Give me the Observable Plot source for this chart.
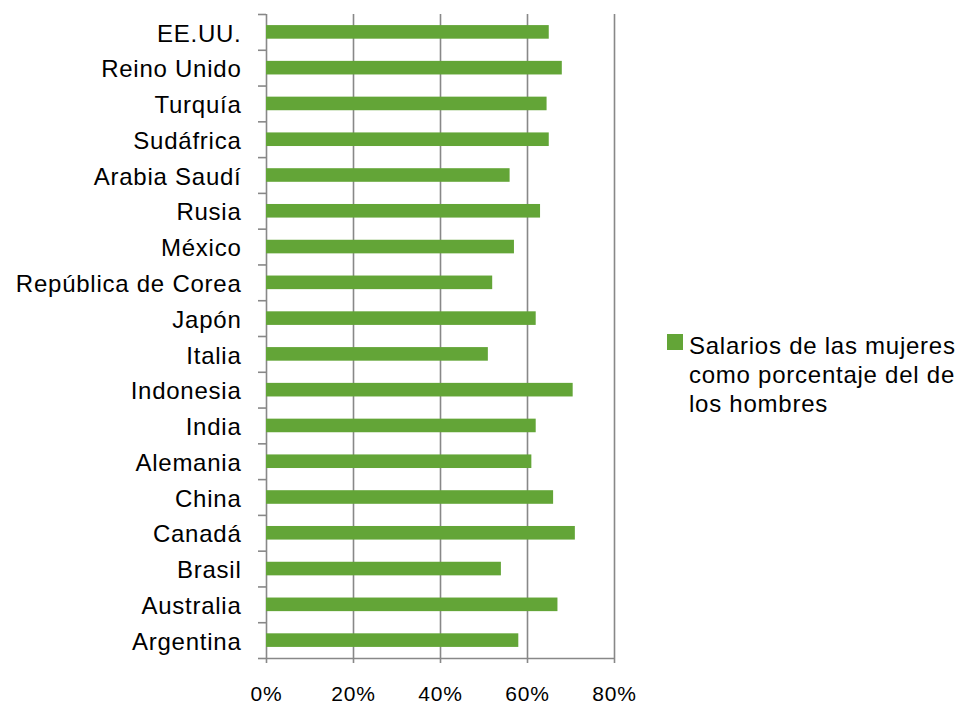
<!DOCTYPE html>
<html>
<head>
<meta charset="utf-8">
<script src="https://cdn.jsdelivr.net/npm/d3@7"></script>
<script src="https://cdn.jsdelivr.net/npm/@observablehq/plot@0.6"></script>
<style>
  body { margin: 0; background: #fff; }
  #wrap { position: relative; width: 963px; height: 705px; font-family: "Liberation Sans", Arial, sans-serif; }
  #legend { position: absolute; left: 667px; top: 331px; font-size: 24px; letter-spacing: 0.75px; line-height: 29px; color: #000; }
  #legend .sw { position: absolute; left: 0; top: 3px; width: 16px; height: 16px; background: #63A537; }
  #legend .tx { position: absolute; left: 22px; top: 0; white-space: nowrap; }
</style>
</head>
<body>
<div id="wrap"></div>
<script>
const countries = ["EE.UU.", "Reino Unido", "Turquía", "Sudáfrica", "Arabia Saudí", "Rusia", "México",
  "República de Corea", "Japón", "Italia", "Indonesia", "India", "Alemania", "China", "Canadá",
  "Brasil", "Australia", "Argentina"];
const wageRatio = [65, 68, 64.5, 65, 56, 63, 57, 52, 62, 51, 70.5, 62, 61, 66, 71, 54, 67, 58];
const xTicks = [0, 20, 40, 60, 80];
const xTickLabels = ["0%", "20%", "40%", "60%", "80%"];
const seriesName = ["Salarios de las mujeres", "como porcentaje del de", "los hombres"];

const data = countries.map((c, i) => ({country: c, value: wageRatio[i]}));

const W = 963, H = 705, mt = 14, mb = 47;
const step = (H - mt - mb) / countries.length;
const gray = "#888888";

const chart = Plot.plot({
  width: W,
  height: H,
  marginLeft: 266,
  marginRight: 349,
  marginTop: mt,
  marginBottom: mb,
  style: {fontFamily: "'Liberation Sans', Arial, sans-serif", fontSize: "24px", letterSpacing: "0.75px", color: "#000", background: "#fff"},
  x: {domain: [0, 80]},
  y: {domain: countries, paddingInner: 0.62, paddingOuter: 0.31, round: false},
  marks: [
    Plot.ruleX(xTicks, {stroke: gray, strokeWidth: 1.6}),
    Plot.ruleY([countries[countries.length - 1]], {dy: step / 2, stroke: gray, strokeWidth: 1.6}),
    Plot.barX(data, {x: "value", y: "country", fill: "#63A537"}),
    Plot.axisY({tickSize: 0, tickPadding: 25, label: null, fill: "#000", dy: 1.5}),
    Plot.axisY(countries, {tickSize: 8, text: null, label: null, dy: -step / 2, stroke: gray, strokeWidth: 1.6}),
    Plot.axisY([countries[countries.length - 1]], {tickSize: 8, text: null, label: null, dy: step / 2, stroke: gray, strokeWidth: 1.6}),
    Plot.axisX({ticks: xTicks, tickFormat: (d) => xTickLabels[xTicks.indexOf(d)], tickSize: 5, tickPadding: 23,
      label: null, fontSize: 21, letterSpacing: "0.5px", stroke: gray, strokeWidth: 1.6, fill: "#000"})
  ]
});

const wrap = document.getElementById("wrap");
wrap.appendChild(chart);
const legend = document.createElement("div");
legend.id = "legend";
legend.innerHTML = `<div class="sw"></div><div class="tx">${seriesName.join("<br>")}</div>`;
wrap.appendChild(legend);
</script>
</body>
</html>
